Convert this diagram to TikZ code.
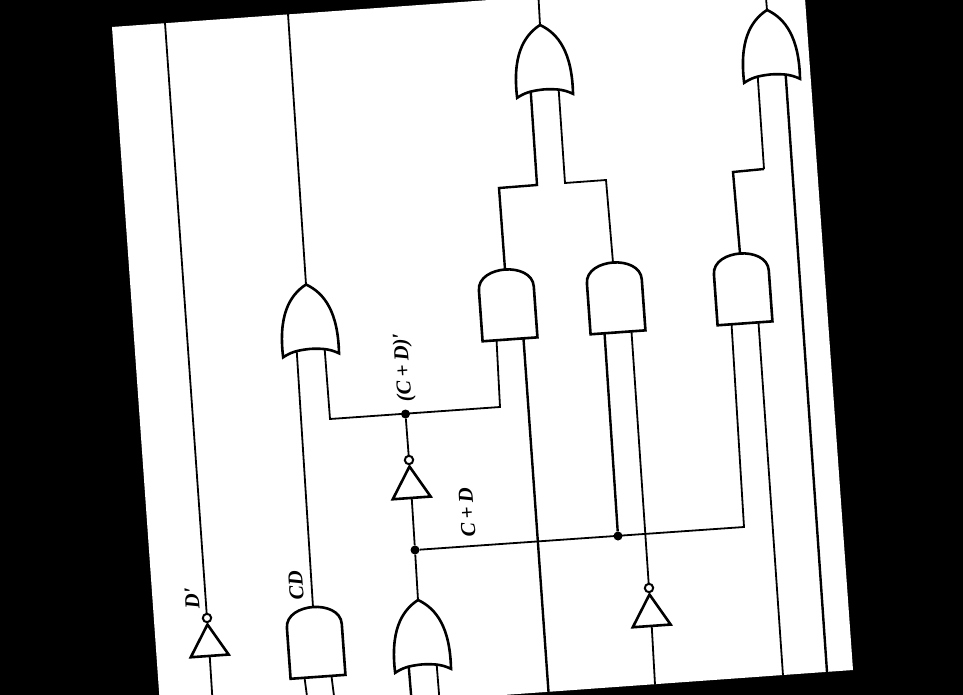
\documentclass[tikz,border=0pt]{standalone}
\usepackage{fontspec}
\setmainfont{Liberation Serif}
\tikzset{
  x=1pt,y=-1pt,
  tilted/.style={rotate=4.1},
  gateline/.style={line width=2.6pt,line join=miter,fill=white},
  wire/.style={line width=1.8pt,line join=miter},
  thickwire/.style={line width=2.4pt,line join=miter},
  junction/.style={circle,fill=black,inner sep=0pt,minimum size=9pt},
  siglabel/.style={font=\bfseries\itshape\fontsize{21}{21}\selectfont,rotate=94.1,inner sep=0pt},
  pics/andgate/.style={code={
    \draw[gateline] (-27.5,70) -- (-27.5,19) .. controls (-27.5,6) and (-13,0) .. (0,0)
      .. controls (13,0) and (27.5,6) .. (27.5,19) -- (27.5,70) -- cycle;
    \coordinate (-out) at (0,0);
    \coordinate (-a) at (-13.5,70);
    \coordinate (-b) at (13.5,70);
  }},
  pics/orgate/.style={code={
    \draw[gateline] (0,0) .. controls (-18,10) and (-30,30) .. (-28,71)
      .. controls (-20,66.5) and (-14,65) .. (0,64.5)
      .. controls (14,65) and (20,66.5) .. (28,71)
      .. controls (30,30) and (18,10) .. (0,0) -- cycle;
    \coordinate (-out) at (0,0);
    \coordinate (-a) at (-14,65);
    \coordinate (-b) at (14,65);
  }},
  pics/invgate/.style={code={
    \draw[gateline] (0,6.5) -- (-19,38) -- (19,38) -- cycle;
    \draw[line width=2pt,fill=white] (0,0) circle (4.2);
    \coordinate (-out) at (0,-4.2);
    \coordinate (-in) at (0,38);
  }},
}
\begin{document}
\begin{tikzpicture}
\useasboundingbox (0,0) rectangle (963,695);
\clip (0,0) rectangle (963,695);
\fill[black] (0,0) rectangle (963,695);
\fill[white] (112,27) -- (803.5,-22.5) -- (853,670) -- (161,719.5) -- cycle;

% free ends and corners
\coordinate (t1) at (165,23);
\coordinate (t2) at (288,14);
\coordinate (t3) at (538.5,-2);
\coordinate (t4) at (766,-2);
\coordinate (b1) at (212.5,700);
\coordinate (b2) at (307.5,700);
\coordinate (b3) at (334.5,700);
\coordinate (b4) at (411.5,700);
\coordinate (b5) at (439.5,700);
\coordinate (b6) at (548.5,692);
\coordinate (b7) at (655,684.5);
\coordinate (b8) at (783,675.5);
\coordinate (b9) at (827,672);
\coordinate (c1) at (330,419);
\coordinate (c2) at (500,407);
\coordinate (c3) at (744,527);
\coordinate (c4) at (537,185);
\coordinate (c5) at (499,188);
\coordinate (c6) at (565,183);
\coordinate (c7) at (606,180);
\coordinate (c8) at (764,169);
\coordinate (c9) at (733,172);

% junction dots
\node[junction] (j1) at (405.5,414) {};
\node[junction] (j2) at (415,550) {};
\node[junction] (j3) at (618,536) {};

% gates
\pic[tilted] (a1) at (313,607) {andgate};
\pic[tilted] (a2) at (505,269.5) {andgate};
\pic[tilted] (a3) at (613,262.5) {andgate};
\pic[tilted] (a4) at (740,253.5) {andgate};
\pic[tilted] (o1) at (540,25) {orgate};
\pic[tilted] (o2) at (767,10) {orgate};
\pic[tilted] (o3) at (306,284.5) {orgate};
\pic[tilted] (o4) at (418,600) {orgate};
\pic[tilted] (i1) at (207,618) {invgate};
\pic[tilted] (i2) at (409,460) {invgate};
\pic[tilted] (i3) at (649,588) {invgate};

% connectors
\draw[wire] (t1) -- (i1-out);
\draw[wire] (i1-in) -- (b1);
\draw[wire] (t2) -- (o3-out);
\draw[wire] (o3-a) -- (a1-out);
\draw[wire] (o3-b) -- (c1) -- (c2) -- (a2-a);
\draw[wire] (j1) -- (i2-out);
\draw[wire] (i2-in) -- (j2);
\draw[wire] (j2) -- (o4-out);
\draw[wire] (j2) -- (c3) -- (a4-a);
\draw[thickwire] (j3) -- (a3-a);
\draw[wire] (a3-b) -- (i3-out);
\draw[wire] (i3-in) -- (b7);
\draw[thickwire] (a2-b) -- (b6);
\draw[wire] (a4-b) -- (b8);
\draw[thickwire] (o2-b) -- (b9);
\draw[wire] (o2-a) -- (c8);
\draw[thickwire] (c8) -- (c9) -- (a4-out);
\draw[thickwire] (o1-a) -- (c4) -- (c5) -- (a2-out);
\draw[wire] (o1-b) -- (c6) -- (c7) -- (a3-out);
\draw[wire] (t3) -- (o1-out);
\draw[wire] (t4) -- (o2-out);
\draw[wire] (a1-a) -- (b2);
\draw[wire] (a1-b) -- (b3);
\draw[thickwire] (o4-a) -- (b4);
\draw[wire] (o4-b) -- (b5);

% labels
\node[siglabel] (l1) at (404,367) {(C\hspace{0.17em}+\hspace{0.22em}D)′};
\node[siglabel] (l2) at (467,512) {C\hspace{0.17em}+\hspace{0.22em}D};
\node[siglabel] (l3) at (296,585) {CD};
\node[siglabel] (l4) at (192,598) {D′};
\end{tikzpicture}
\end{document}
